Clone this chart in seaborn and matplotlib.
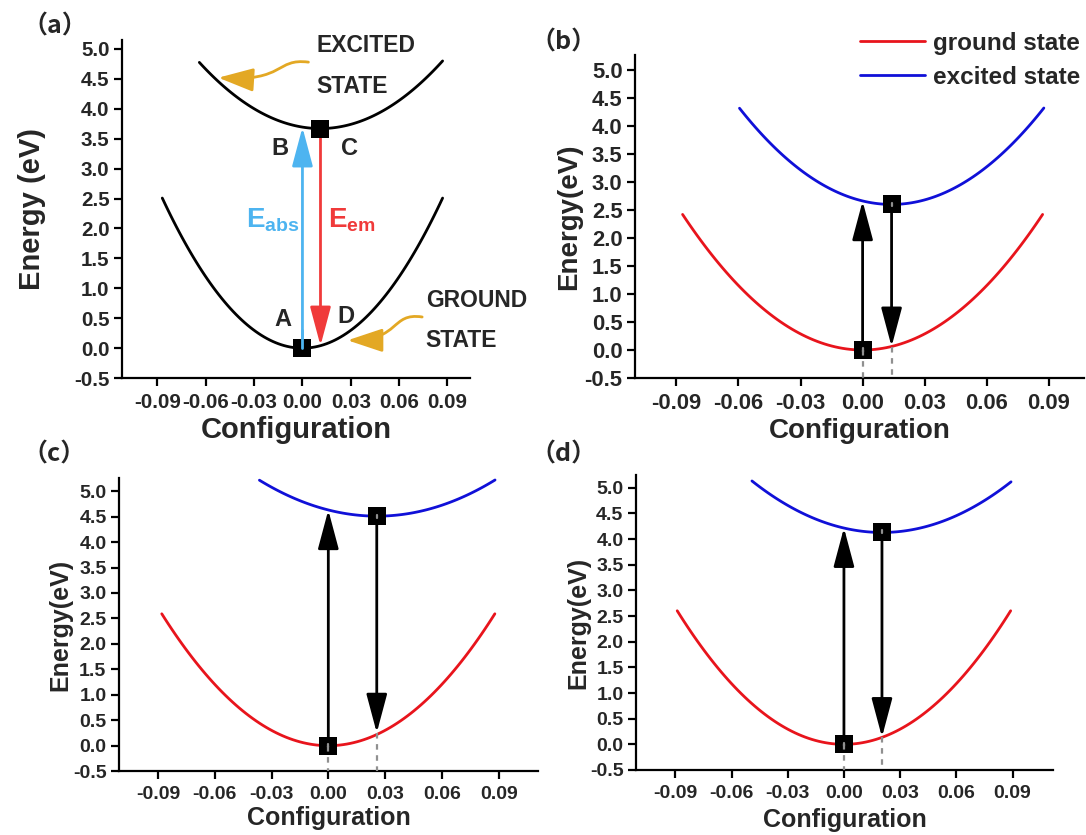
import numpy as np
import seaborn as sns
import matplotlib
matplotlib.use("Agg")
import matplotlib.pyplot as plt
from matplotlib.lines import Line2D
from matplotlib.patches import FancyArrowPatch
from matplotlib.path import Path

sns.set_theme(style="ticks")
plt.rcParams['font.family'] = ['Liberation Sans', 'DejaVu Sans']
plt.rcParams['font.weight'] = 'bold'
plt.rcParams['axes.unicode_minus'] = False
plt.rcParams['mathtext.fontset'] = 'custom'
plt.rcParams['mathtext.bf'] = 'Liberation Sans:bold'
plt.rcParams['mathtext.rm'] = 'Liberation Sans:bold'

# values
# (a)
a_ground_x = [-0.087, -0.08, -0.07, -0.06, -0.05, -0.04, -0.03, -0.02, -0.01, 0.0,
              0.01, 0.02, 0.03, 0.04, 0.05, 0.06, 0.07, 0.08, 0.087]
a_ground_e = [2.51, 2.12, 1.62, 1.19, 0.83, 0.53, 0.30, 0.13, 0.03, 0.00,
              0.03, 0.13, 0.30, 0.53, 0.83, 1.19, 1.62, 2.12, 2.51]
a_exc_x = [-0.064, -0.06, -0.05, -0.04, -0.03, -0.02, -0.01, 0.0, 0.01,
           0.02, 0.03, 0.04, 0.05, 0.06, 0.07, 0.08, 0.087]
a_exc_e = [4.78, 4.66, 4.40, 4.18, 4.00, 3.86, 3.76, 3.69, 3.67,
           3.69, 3.74, 3.83, 3.97, 4.14, 4.35, 4.60, 4.80]
# (b)
b_ground_x = a_ground_x
b_ground_e = [2.42, 2.05, 1.57, 1.15, 0.80, 0.51, 0.29, 0.13, 0.03, 0.00,
              0.03, 0.13, 0.29, 0.51, 0.80, 1.15, 1.57, 2.05, 2.42]
b_exc_x = [-0.0595, -0.05, -0.04, -0.03, -0.02, -0.01, 0.0, 0.01, 0.02,
           0.03, 0.04, 0.05, 0.06, 0.07, 0.08, 0.0876]
b_exc_e = [4.32, 3.90, 3.53, 3.22, 2.97, 2.78, 2.66, 2.61, 2.61,
           2.68, 2.82, 3.01, 3.27, 3.60, 3.99, 4.32]
# (c)
c_ground_x = [-0.088, -0.08, -0.07, -0.06, -0.05, -0.04, -0.03, -0.02, -0.01, 0.0,
              0.01, 0.02, 0.03, 0.04, 0.05, 0.06, 0.07, 0.08, 0.088]
c_ground_e = [2.59, 2.14, 1.64, 1.20, 0.84, 0.53, 0.30, 0.13, 0.03, 0.00,
              0.03, 0.13, 0.30, 0.53, 0.84, 1.20, 1.64, 2.14, 2.59]
c_exc_x = [-0.0364, -0.03, -0.02, -0.01, 0.0, 0.01, 0.02, 0.03,
           0.04, 0.05, 0.06, 0.07, 0.08, 0.0881]
c_exc_e = [5.22, 5.08, 4.89, 4.74, 4.63, 4.56, 4.52, 4.51,
           4.55, 4.62, 4.72, 4.87, 5.05, 5.22]
# (d)
d_ground_x = [-0.089, -0.08, -0.07, -0.06, -0.05, -0.04, -0.03, -0.02, -0.01, 0.0,
              0.01, 0.02, 0.03, 0.04, 0.05, 0.06, 0.07, 0.08, 0.089]
d_ground_e = [2.60, 2.11, 1.61, 1.18, 0.82, 0.53, 0.30, 0.13, 0.03, 0.00,
              0.03, 0.13, 0.30, 0.53, 0.82, 1.18, 1.61, 2.11, 2.60]
d_exc_x = [-0.0491, -0.04, -0.03, -0.02, -0.01, 0.0, 0.01, 0.02,
           0.03, 0.04, 0.05, 0.06, 0.07, 0.08, 0.0892]
d_exc_e = [5.13, 4.89, 4.66, 4.47, 4.32, 4.22, 4.15, 4.13,
           4.15, 4.21, 4.31, 4.46, 4.64, 4.87, 5.12]

# transition points: x of emission, excited minimum energy, absorption tip, emission tip
em_x = {'a': 0.0112, 'b': 0.014, 'c': 0.0256, 'd': 0.0203}
exc_min = {'a': 3.67, 'b': 2.60, 'c': 4.51, 'd': 4.14}
abs_tip = {'a': 3.69, 'b': 2.66, 'c': 4.63, 'd': 4.22}
em_tip = {'a': 0.04, 'b': 0.06, 'c': 0.25, 'd': 0.14}

y_ticks = np.arange(-0.5, 5.01, 0.5)
x_ticks = [-0.09, -0.06, -0.03, 0.00, 0.03, 0.06, 0.09]

W, H = 1086, 835
fig = plt.figure(figsize=(W / 100, H / 100), dpi=100)

def px_axes(l, t, r, b):
    return fig.add_axes([l / W, 1 - b / H, (r - l) / W, (b - t) / H])

ax_a = px_axes(122, 40, 470, 378)
ax_b = px_axes(635, 55, 1084, 378)
ax_c = px_axes(119, 478, 538, 771)
ax_d = px_axes(636, 475, 1053, 770)

lims = {'a': ((-0.112, 0.104), (-0.5, 5.15)),
        'b': ((-0.110, 0.107), (-0.5, 5.27)),
        'c': ((-0.1106, 0.1108), (-0.5, 5.26)),
        'd': ((-0.111, 0.1116), (-0.5, 5.25))}
tick_fs = {'a': 14.8, 'b': 15.8, 'c': 14, 'd': 14}
lab_fs = {'a': 21, 'b': 20, 'c': 18, 'd': 18}
xpad = {'a': 3, 'b': 3, 'c': 2, 'd': 4}
ypad = {'a': 20, 'b': 2, 'c': 0, 'd': 0}

def style_axes(ax, key, ylabel):
    ax.set_xlim(*lims[key][0])
    ax.set_ylim(*lims[key][1])
    ax.set_yticks(y_ticks)
    ax.set_xticks(x_ticks)
    ax.set_yticklabels([f"{v:.1f}" for v in y_ticks], fontweight='bold')
    ax.set_xticklabels([f"{v:.2f}" for v in x_ticks], fontweight='bold')
    sns.despine(ax=ax)
    for s in ['left', 'bottom']:
        ax.spines[s].set_linewidth(1.6)
        ax.spines[s].set_color('black')
    ax.tick_params(direction='out', length=6, width=1.6, color='black',
                   labelsize=tick_fs[key], pad=3)
    ax.tick_params(axis='x', pad=5)
    ax.set_xlabel('Configuration', fontsize=lab_fs[key], fontweight='bold',
                  labelpad=xpad[key])
    ax.set_ylabel(ylabel, fontsize=lab_fs[key], fontweight='bold', labelpad=ypad[key])
    ax.patch.set_alpha(0)

def curve(ax, xs, es, color):
    sns.regplot(x=np.array(xs), y=np.array(es), order=2, ci=None, scatter=False,
                truncate=True, color=color, line_kws={'lw': 2.0}, ax=ax)

def arrow(ax, x0, y0, x1, y1, color):
    ax.annotate('', xy=(x1, y1), xytext=(x0, y0),
                arrowprops=dict(arrowstyle='-|>,head_length=1.2,head_width=0.32',
                                mutation_scale=20, color=color, lw=2.0,
                                shrinkA=0, shrinkB=0), zorder=4)

def squares(ax, xs, ys):
    sns.scatterplot(x=xs, y=ys, marker='s', s=150, color='black',
                    edgecolor='black', linewidth=0, zorder=5, ax=ax)

def wavy_arrow(ax, pts, color):
    codes = [Path.MOVETO, Path.CURVE4, Path.CURVE4, Path.CURVE4]
    p = FancyArrowPatch(path=Path(pts, codes),
                        arrowstyle='-|>,head_length=1.2,head_width=0.4',
                        mutation_scale=18, color=color, lw=2.0)
    ax.add_patch(p)

# ---- (a)
curve(ax_a, a_ground_x, a_ground_e, 'black')
curve(ax_a, a_exc_x, a_exc_e, 'black')
squares(ax_a, [0.0, em_x['a']], [0.0, exc_min['a']])
arrow(ax_a, 0.0, 0.0, 0.0, abs_tip['a'], '#4db4f0')
arrow(ax_a, em_x['a'], exc_min['a'], em_x['a'], em_tip['a'], '#f03a3a')
ax_a.plot([0.0, 0.0], [0.0, 0.3], color='#4db4f0', lw=2.0, zorder=6)
lt = dict(fontsize=17, fontweight='bold', ha='center', va='center')
ax_a.text(-0.0137, 3.33, 'B', **lt)
ax_a.text(0.029, 3.33, 'C', **lt)
ax_a.text(-0.0124, 0.47, 'A', **lt)
ax_a.text(0.027, 0.52, 'D', **lt)
ax_a.text(-0.0186, 2.13, r'$\mathbf{E_{abs}}$', color='#4db4f0', fontsize=20,
          ha='center', va='center')
ax_a.text(0.0305, 2.13, r'$\mathbf{E_{em}}$', color='#f03a3a', fontsize=20,
          ha='center', va='center')
st = dict(fontsize=16.5, fontweight='bold', ha='left', va='center')
ax_a.text(0.0085, 5.05, 'EXCITED', **st)
ax_a.text(0.0085, 4.38, 'STATE', **st)
ax_a.text(0.0765, 0.80, 'GROUND', **st)
ax_a.text(0.0765, 0.12, 'STATE', **st)
gold = '#e3a824'
wavy_arrow(ax_a, [(0.0037, 4.78), (-0.0168, 4.85), (-0.0106, 4.45), (-0.0522, 4.52)], gold)
wavy_arrow(ax_a, [(0.0743, 0.52), (0.0547, 0.60), (0.0609, 0.13), (0.028, 0.13)], gold)
style_axes(ax_a, 'a', 'Energy (eV)')

# ---- (b), (c), (d)
panels = [(ax_b, 'b', b_ground_x, b_ground_e, b_exc_x, b_exc_e),
          (ax_c, 'c', c_ground_x, c_ground_e, c_exc_x, c_exc_e),
          (ax_d, 'd', d_ground_x, d_ground_e, d_exc_x, d_exc_e)]
for ax, key, gx, ge, ex, ee in panels:
    curve(ax, gx, ge, '#e8141c')
    curve(ax, ex, ee, '#1010d8')
    squares(ax, [0.0, em_x[key]], [0.0, exc_min[key]])
    arrow(ax, 0.0, 0.0, 0.0, abs_tip[key], 'black')
    arrow(ax, em_x[key], exc_min[key], em_x[key], em_tip[key], 'black')
    dash = dict(ls=(0, (2.5, 2.5)), color='#909090', lw=1.6, zorder=6)
    ax.plot([0.0, 0.0], [0.0, -0.5], **dash)
    ax.plot([em_x[key], em_x[key]], [em_tip[key], -0.5], **dash)
    ax.plot([0.0, 0.0], [-0.03, 0.03], color='#909090', lw=1.6, zorder=6)
    ax.plot([em_x[key]] * 2, [exc_min[key] - 0.03, exc_min[key] + 0.03],
            color='#909090', lw=1.6, zorder=6)
    style_axes(ax, key, 'Energy(eV)')

handles = [Line2D([], [], color='#e8141c', lw=2.0), Line2D([], [], color='#1010d8', lw=2.0)]
fig.legend(handles, ['ground state', 'excited state'], loc='upper right',
           bbox_to_anchor=(1080 / W, 1 - 32 / H), frameon=False,
           prop={'size': 17.5, 'weight': 'bold'}, handlelength=2.7,
           handletextpad=0.3, labelspacing=0.45, borderaxespad=0, borderpad=0)

# panel labels
pl = dict(fontsize=18, fontweight='bold', va='center', ha='left',
          family=['Noto Sans CJK SC', 'DejaVu Sans'])
fig.text(22 / W, 1 - 27 / H, '（a）', **pl)
fig.text(530 / W, 1 - 42 / H, '（b）', **pl)
fig.text(22 / W, 1 - 454 / H, '（c）', **pl)
fig.text(530 / W, 1 - 454 / H, '（d）', **pl)

fig.savefig('out.png', dpi=100)
